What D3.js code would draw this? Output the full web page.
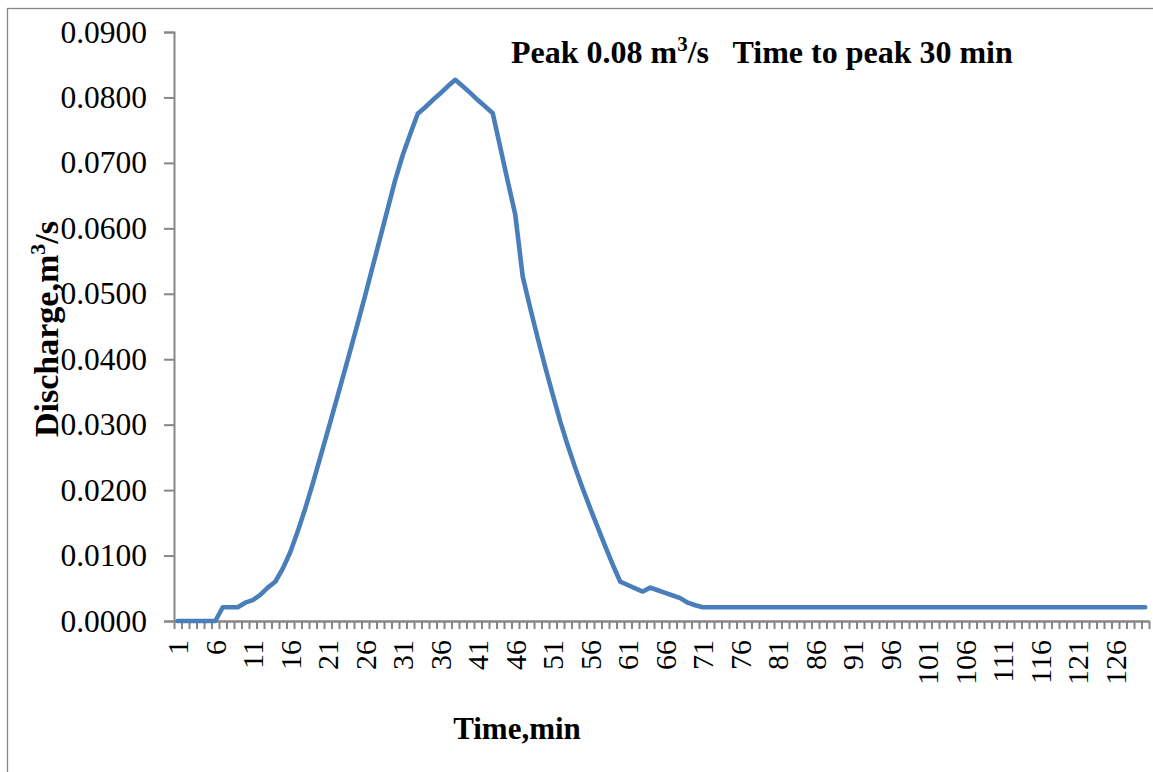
<!DOCTYPE html>
<html><head><meta charset="utf-8">
<script src="https://cdn.jsdelivr.net/npm/d3@7"></script>
<style>
body{margin:0;background:#fff;}
text{font-family:"Liberation Serif","Times New Roman",serif;white-space:pre;}
</style></head>
<body><svg id="c" width="1153" height="772"></svg>
<script>
const times = d3.range(1, 131);
const discharge = [
 0,0,0,0,0,0,0.0021,0.0021,0.0021,0.0028,
 0.0032,0.0040,0.0051,0.0060,0.0080,0.0105,0.0137,0.0172,0.0210,0.0250,
 0.0290,0.0331,0.0372,0.0413,0.0455,0.0498,0.0542,0.0586,0.0630,0.0674,
 0.0712,0.0744,0.0775,0.0785,0.0796,0.0806,0.0817,0.0827,0.0817,0.0807,
 0.0796,0.0786,0.0776,0.0724,0.0672,0.0621,0.0526,0.0478,0.0432,0.0388,
 0.0346,0.0305,0.0268,0.0234,0.0202,0.0172,0.0143,0.0114,0.0086,0.0060,
 0.0055,0.0050,0.0045,0.0051,0.0047,0.0043,0.0039,0.0035,0.0028,0.0024,
 0.0021,0.0021,0.0021,0.0021,0.0021,0.0021,0.0021,0.0021,0.0021,0.0021,
 0.0021,0.0021,0.0021,0.0021,0.0021,0.0021,0.0021,0.0021,0.0021,0.0021,
 0.0021,0.0021,0.0021,0.0021,0.0021,0.0021,0.0021,0.0021,0.0021,0.0021,
 0.0021,0.0021,0.0021,0.0021,0.0021,0.0021,0.0021,0.0021,0.0021,0.0021,
 0.0021,0.0021,0.0021,0.0021,0.0021,0.0021,0.0021,0.0021,0.0021,0.0021,
 0.0021,0.0021,0.0021,0.0021,0.0021,0.0021,0.0021,0.0021,0.0021,0.0021
];
const yTicks = d3.range(0, 0.0901, 0.01);
const xTickLabels = d3.range(1, 131, 5);

const svg = d3.select("#c");
const L = 174, R = 1149, T = 32, B = 621;
const x = d3.scaleLinear().domain([0.5, 130.5]).range([L, R]);
const y = d3.scaleLinear().domain([0, 0.09]).range([B, T]);
const axisColor = "#868686";

// outer border
svg.append("rect").attr("x", 7.5).attr("y", 8.5).attr("width", 1160).attr("height", 780)
  .attr("fill", "none").attr("stroke", axisColor).attr("stroke-width", 1.3);

// y axis
const ya = svg.append("g").attr("transform", `translate(${L},0)`)
  .call(d3.axisLeft(y).tickValues(yTicks).tickFormat(d3.format(".4f")).tickSize(10).tickPadding(17));
ya.select(".domain").attr("stroke", axisColor).attr("stroke-width", 2);
ya.selectAll(".tick line").attr("stroke", axisColor).attr("stroke-width", 2);
ya.selectAll(".tick text").attr("font-family", "Liberation Serif").attr("font-size", 31.5).attr("fill", "#000");

// x axis ticks (between categories)
const xa = svg.append("g").attr("transform", `translate(0,${B})`)
  .call(d3.axisBottom(x).tickValues(d3.range(0.5, 131, 1)).tickFormat("").tickSize(8).tickSizeOuter(0));
xa.select(".domain").attr("stroke", axisColor).attr("stroke-width", 2.5);
xa.selectAll(".tick line").attr("stroke", axisColor).attr("stroke-width", 2);

// x labels
const xl = svg.append("g").attr("transform", `translate(0,${B})`)
  .call(d3.axisBottom(x).tickValues(xTickLabels).tickFormat(d3.format("d")).tickSize(0));
xl.select(".domain").remove();
xl.selectAll(".tick text").attr("font-family", "Liberation Serif").attr("font-size", 30).attr("fill", "#000")
  .attr("text-anchor", "end").attr("transform", "rotate(-90)")
  .attr("x", -19).attr("y", 0).attr("dy", "0.33em");

// line
svg.append("path").datum(discharge)
  .attr("fill", "none").attr("stroke", "#4a7ebb").attr("stroke-width", 4.6)
  .attr("stroke-linejoin", "round").attr("stroke-linecap", "round")
  .attr("d", d3.line().x((d, i) => x(times[i])).y(d => y(d)));

// title
const t = svg.append("text").attr("x", 511).attr("y", 63).attr("font-size", 32).attr("font-weight", "bold");
t.append("tspan").text("Peak 0.08 m");
t.append("tspan").text("3").attr("font-size", 21).attr("dy", -12);
t.append("tspan").text("/s   Time to peak 30 min").attr("dy", 12);

// x title
svg.append("text").attr("x", 517).attr("y", 739).attr("text-anchor", "middle")
  .attr("font-size", 31).attr("font-weight", "bold").text("Time,min");

// y title
const yt = svg.append("text").attr("transform", "translate(58,329) rotate(-90)").attr("text-anchor", "middle")
  .attr("font-size", 34).attr("font-weight", "bold");
yt.append("tspan").text("Discharge,m");
yt.append("tspan").text("3").attr("font-size", 22).attr("dy", -13);
yt.append("tspan").text("/s").attr("dy", 13);
</script></body></html>
